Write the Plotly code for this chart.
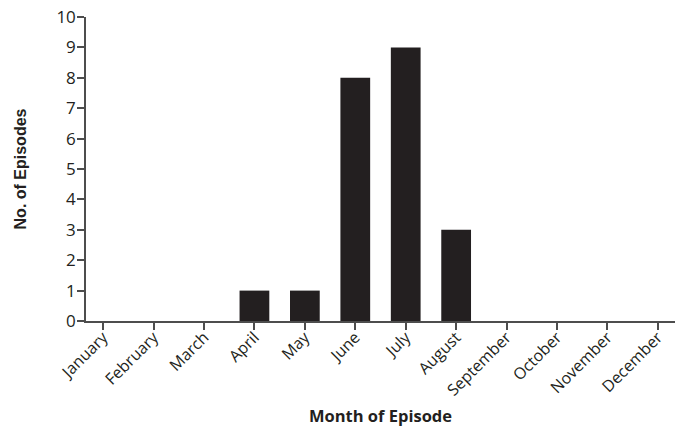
import plotly.graph_objects as go

months = ["January", "February", "March", "April", "May", "June", "July",
          "August", "September", "October", "November", "December"]
episodes = [0, 0, 0, 1, 1, 8, 9, 3, 0, 0, 0, 0]
y_ticks = list(range(0, 11))

axis_color = "#4d4d4d"
bar_color = "#231f20"

fig = go.Figure(go.Bar(x=months, y=episodes, marker_color=bar_color,
                       marker_line_width=0, width=0.59))

fig.update_layout(
    width=682, height=427,
    margin=dict(l=86, r=7, t=17, b=106),
    plot_bgcolor="white", paper_bgcolor="white",
    showlegend=False,
    font=dict(family="Open Sans", color="#231f20"),
)
fig.update_xaxes(
    range=[-0.34, 11.34], showline=True, linecolor=axis_color, linewidth=1.5,
    ticks="outside", ticklen=7, tickcolor=axis_color, tickwidth=1.5,
    tickangle=-45, tickfont=dict(size=16, family="Open Sans"),
    ticklabelstandoff=-8,
    showgrid=False, zeroline=False, automargin=False,
    title=dict(text="<b>Month of Episode</b>", font=dict(size=16.5, family="Open Sans"), standoff=14),
)
fig.update_yaxes(
    range=[0, 10], tickvals=y_ticks, showline=True, linecolor=axis_color, linewidth=1.5,
    ticks="outside", ticklen=7, tickcolor=axis_color, tickwidth=1.5,
    tickfont=dict(size=17, family="Open Sans"), ticklabelstandoff=-2,
    showgrid=False, zeroline=False, automargin=False,
    title=dict(text="<b>No. of Episodes</b>", font=dict(size=16, family="Liberation Sans"), standoff=26),
)

fig.write_html("out.html", config={"displayModeBar": False},
               post_script="document.body.style.margin='0';")
